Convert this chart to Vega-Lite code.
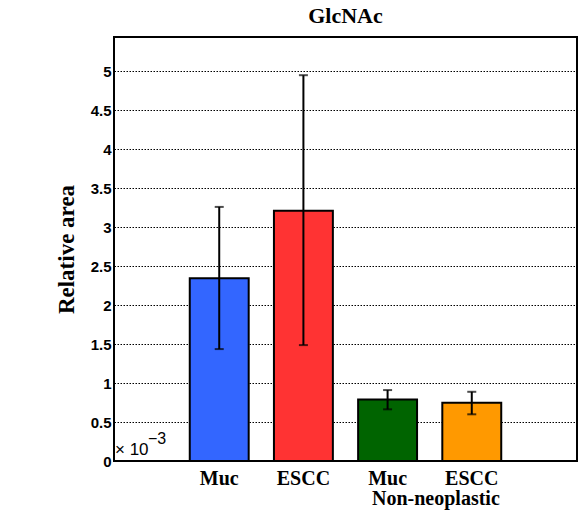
{
  "$schema": "https://vega.github.io/schema/vega-lite/v6.json",
  "width": 463,
  "height": 424,
  "autosize": {"type": "none"},
  "padding": {"left": 114, "top": 37, "right": 3, "bottom": 51},
  "background": "white",
  "title": {
    "text": "GlcNAc",
    "font": "Liberation Serif",
    "fontWeight": "bold",
    "fontSize": 22,
    "frame": "group",
    "anchor": "middle",
    "offset": 9,
    "color": "black"
  },
  "config": {
    "view": {"stroke": "black", "strokeWidth": 2},
    "axis": {"domain": false, "ticks": false}
  },
  "data": {
    "values": [
      {"cat": "Muc", "mean": 2.346, "lo": 1.436, "hi": 3.26},
      {"cat": "ESCC", "mean": 3.21, "lo": 1.487, "hi": 4.95},
      {"cat": "Muc (non-neoplastic)", "mean": 0.79, "lo": 0.663, "hi": 0.91},
      {"cat": "ESCC (non-neoplastic)", "mean": 0.747, "lo": 0.599, "hi": 0.888}
    ]
  },
  "layer": [
    {
      "mark": {"type": "bar", "stroke": "black", "strokeWidth": 2},
      "encoding": {
        "x": {
          "field": "cat",
          "type": "nominal",
          "sort": null,
          "scale": {
            "domain": ["Muc", "ESCC", "Muc (non-neoplastic)", "ESCC (non-neoplastic)"],
            "paddingInner": 0.3,
            "paddingOuter": 0.9
          },
          "axis": {
            "title": null,
            "labelAngle": 0,
            "labelExpr": "split(datum.value, ' ')[0]",
            "labelFont": "Liberation Serif",
            "labelFontWeight": "bold",
            "labelFontSize": 20,
            "labelColor": "black",
            "labelPadding": 7,
            "grid": false
          }
        },
        "y": {
          "field": "mean",
          "type": "quantitative",
          "title": "Relative area",
          "scale": {"domain": [0, 5.44], "nice": false},
          "axis": {
            "title": "Relative area",
            "titleFont": "Liberation Serif",
            "titleFontWeight": "bold",
            "titleFontSize": 23,
            "titleColor": "black",
            "titlePadding": 12,
            "values": [0, 0.5, 1, 1.5, 2, 2.5, 3, 3.5, 4, 4.5, 5],
            "format": "~g",
            "labelFont": "Liberation Sans",
            "labelFontWeight": "bold",
            "labelFontSize": 15,
            "labelColor": "black",
            "labelPadding": 3,
            "grid": true,
            "gridColor": "#000000",
            "gridDash": [1.5, 1.5],
            "gridWidth": 1
          }
        },
        "color": {
          "field": "cat",
          "type": "nominal",
          "scale": {
            "domain": ["Muc", "ESCC", "Muc (non-neoplastic)", "ESCC (non-neoplastic)"],
            "range": ["#3366ff", "#ff3333", "#006400", "#ff9900"]
          },
          "legend": null
        }
      }
    },
    {
      "mark": {
        "type": "errorbar",
        "ticks": {"size": 9, "color": "black", "thickness": 2},
        "rule": {"color": "black", "strokeWidth": 2}
      },
      "encoding": {
        "x": {"field": "cat", "type": "nominal", "sort": null},
        "y": {"field": "lo", "type": "quantitative", "title": "Relative area"},
        "y2": {"field": "hi"}
      }
    },
    {
      "data": {"values": [{"cat": "Muc (non-neoplastic)", "label": "Non-neoplastic"}]},
      "mark": {
        "type": "text",
        "font": "Liberation Serif",
        "fontWeight": "bold",
        "fontSize": 20,
        "color": "black",
        "baseline": "alphabetic",
        "align": "center",
        "dy": 44
      },
      "encoding": {
        "x": {"field": "cat", "type": "nominal", "bandPosition": 1.32},
        "y": {"datum": 0, "type": "quantitative"},
        "text": {"field": "label"}
      }
    },
    {
      "data": {"values": [{"label": "× 10"}]},
      "mark": {
        "type": "text",
        "font": "Liberation Sans",
        "fontSize": 17,
        "color": "black",
        "baseline": "alphabetic",
        "align": "left",
        "dx": 1,
        "dy": -6
      },
      "encoding": {
        "x": {"value": 0},
        "y": {"datum": 0, "type": "quantitative"},
        "text": {"field": "label"}
      }
    },
    {
      "data": {"values": [{"label": "−3"}]},
      "mark": {
        "type": "text",
        "font": "Liberation Sans",
        "fontSize": 16,
        "color": "black",
        "baseline": "alphabetic",
        "align": "left",
        "dx": 34,
        "dy": -17
      },
      "encoding": {
        "x": {"value": 0},
        "y": {"datum": 0, "type": "quantitative"},
        "text": {"field": "label"}
      }
    }
  ]
}
